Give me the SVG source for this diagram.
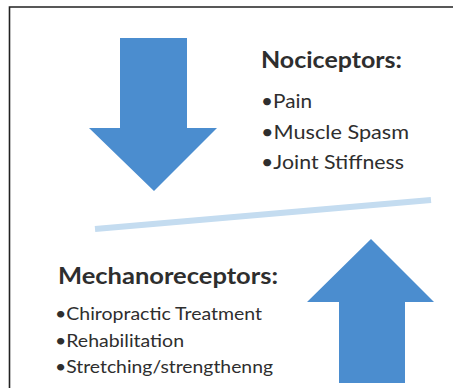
<svg xmlns="http://www.w3.org/2000/svg" width="453" height="388" viewBox="0 0 453 388">
<style>
.arrow{fill:#4b8dcf;}
.title{font-family:Lato,"Open Sans","Liberation Sans",sans-serif;font-weight:bold;fill:#2e2e2e;}
.item{font-family:Lato,"Open Sans","Liberation Sans",sans-serif;fill:#2e2e2e;}
</style>
<rect x="0" y="0" width="453" height="388" fill="#ffffff"/>
<g id="frame">
<path d="M9.5,392 V7 H460" fill="none" stroke="#222" stroke-width="1.6"/>
</g>
<g id="down-arrow">
<polygon class="arrow" points="120,38 187,38 187,128 217,128 154,191 89,128 120,128"/>
</g>
<g id="nociceptors">
<text class="title" x="261" y="68" font-size="22" textLength="141" lengthAdjust="spacingAndGlyphs">Nociceptors:</text>
<text class="item" x="261" y="108" font-size="20" textLength="51" lengthAdjust="spacingAndGlyphs">•Pain</text>
<text class="item" x="261" y="139" font-size="20" textLength="148" lengthAdjust="spacingAndGlyphs">•Muscle Spasm</text>
<text class="item" x="261" y="169" font-size="20" textLength="143" lengthAdjust="spacingAndGlyphs">•Joint Stiffness</text>
</g>
<g id="divider">
<line x1="95" y1="229" x2="431" y2="200" stroke="#c4dcf0" stroke-width="6"/>
</g>
<g id="mechanoreceptors">
<text class="title" x="58" y="284" font-size="22" textLength="220" lengthAdjust="spacingAndGlyphs">Mechanoreceptors:</text>
<text class="item" x="55" y="320" font-size="18" textLength="207" lengthAdjust="spacingAndGlyphs">•Chiropractic Treatment</text>
<text class="item" x="55" y="347" font-size="18" textLength="129" lengthAdjust="spacingAndGlyphs">•Rehabilitation</text>
<text class="item" x="55" y="373" font-size="18" textLength="218" lengthAdjust="spacingAndGlyphs">•Stretching/strengthenng</text>
</g>
<g id="up-arrow">
<polygon class="arrow" points="371,239 434,302 405,302 405,383 339,383 339,302 307,302"/>
</g>
</svg>
